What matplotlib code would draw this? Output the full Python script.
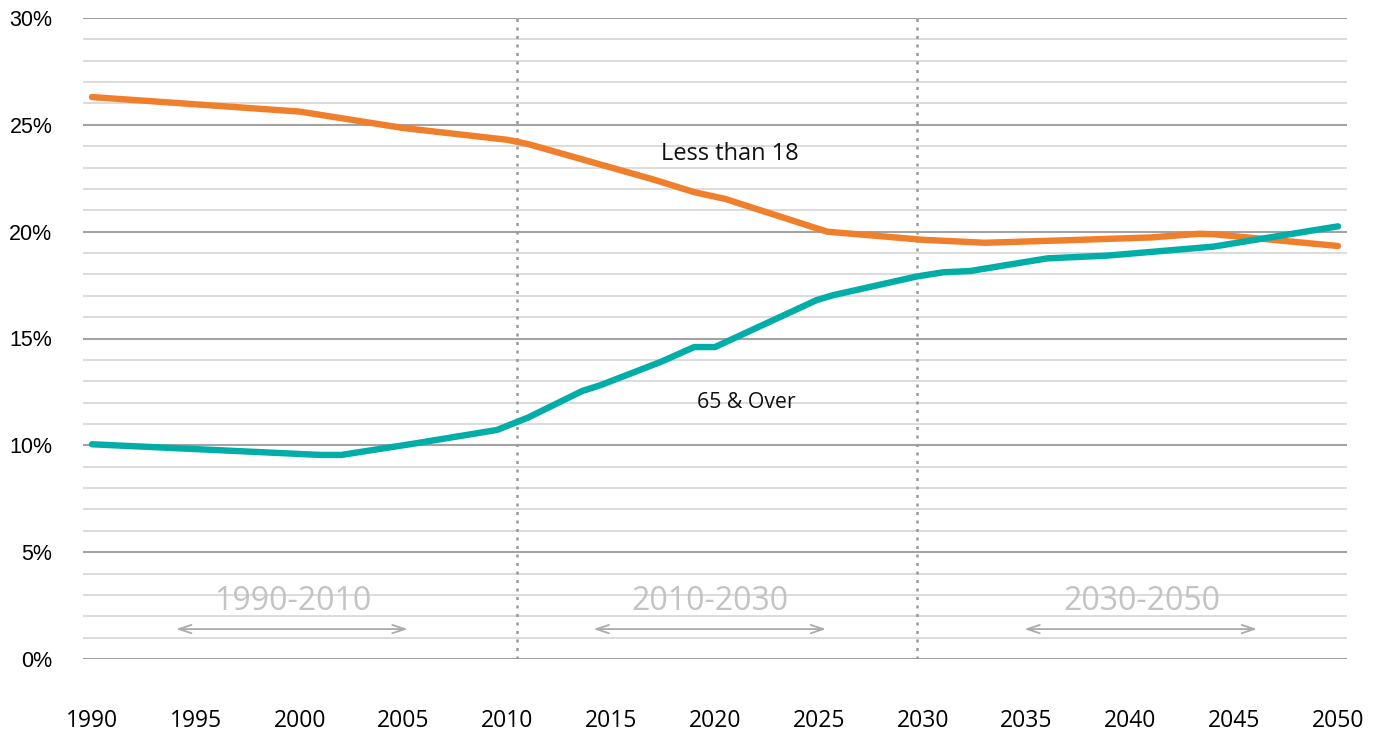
import matplotlib
matplotlib.use("Agg")
import matplotlib.pyplot as plt
from matplotlib.ticker import MultipleLocator, FuncFormatter

# ---- data ----
years_under18 = [1990, 2000, 2005, 2010, 2011, 2017, 2019, 2020.5, 2025.4, 2030, 2033, 2037, 2041, 2043.3, 2044, 2050]
pct_under18 = [26.3, 25.62, 24.85, 24.3, 24.1, 22.45, 21.85, 21.53, 20.0, 19.62, 19.48, 19.6, 19.73, 19.9, 19.88, 19.33]

years_65plus = [1990, 2001, 2002, 2005.5, 2009.5, 2011, 2013.6, 2014.5, 2017.4, 2019, 2020, 2024.9, 2025.7, 2029.7, 2031, 2032.3, 2036, 2038.9, 2044, 2050]
pct_65plus = [10.05, 9.55, 9.55, 10.08, 10.72, 11.3, 12.54, 12.82, 13.91, 14.6, 14.6, 16.8, 17.03, 17.9, 18.1, 18.16, 18.75, 18.88, 19.3, 20.25]

x_ticks = [1990, 1995, 2000, 2005, 2010, 2015, 2020, 2025, 2030, 2035, 2040, 2045, 2050]
y_major = [0, 5, 10, 15, 20, 25, 30]
period_labels = ["1990-2010", "2010-2030", "2030-2050"]
period_text_x = [1999.65, 2019.78, 2040.56]
period_arrow_from = [1994.05, 2014.15, 2034.9]
period_arrow_to = [2005.2, 2025.35, 2046.1]
divider_years = [2010.45, 2029.75]

ORANGE = "#F07F2C"
TEAL = "#00ADA7"

fig = plt.figure(figsize=(13.77, 7.33), dpi=100)
ax = fig.add_axes([83 / 1377, 1 - 659 / 733, 1264 / 1377, 641 / 733])

ax.set_xlim(1989.567, 2050.433)
ax.set_ylim(0, 30)

# grid
ax.yaxis.set_major_locator(MultipleLocator(5))
ax.yaxis.set_minor_locator(MultipleLocator(1))
ax.grid(which="minor", axis="y", color="#d9d9d9", linewidth=1.3, zorder=0)
ax.grid(which="major", axis="y", color="#a3a3a3", linewidth=1.5, zorder=0)
ax.set_axisbelow(True)

for s in ax.spines.values():
    s.set_visible(False)

ax.set_xticks(x_ticks)
ax.set_xticklabels([str(t) for t in x_ticks], fontfamily="Open Sans", fontsize=16.5)
ax.yaxis.set_major_formatter(FuncFormatter(lambda v, p: f"{int(v)}%"))
ax.tick_params(axis="x", length=0, pad=36)
ax.tick_params(axis="y", which="both", length=0, pad=22, labelsize=15.5)
for lbl in ax.get_yticklabels():
    lbl.set_fontfamily("Liberation Sans")

# dotted dividers
for d in divider_years:
    ax.plot([d, d], [0, 30], color="#9a9a9a", linestyle=(0, (1.2, 2.2)), linewidth=1.8, zorder=1)

# lines
ax.plot(years_under18, pct_under18, color=ORANGE, linewidth=4.6, solid_capstyle="round",
        solid_joinstyle="round", zorder=3)
ax.plot(years_65plus, pct_65plus, color=TEAL, linewidth=4.6, solid_capstyle="round",
        solid_joinstyle="round", zorder=4)

ax.text(2020.7, 23.65, "Less than 18", fontfamily="Open Sans", fontsize=17, ha="center",
        va="center", color="#111111")
ax.text(2021.5, 12.0, "65 & Over", fontfamily="Open Sans", fontsize=15.3, ha="center",
        va="center", color="#111111")

# period annotations
for lab, tx, a0, a1 in zip(period_labels, period_text_x, period_arrow_from, period_arrow_to):
    ax.text(tx, 2.68, lab, fontfamily="Open Sans", fontsize=23, color="#c3c3c3",
            ha="center", va="center", zorder=2)
    ax.annotate("", xy=(a1, 1.4), xytext=(a0, 1.4),
                arrowprops=dict(arrowstyle="<->,head_length=0.9,head_width=0.3",
                                color="#ababab", linewidth=1.3, shrinkA=0, shrinkB=0),
                zorder=2)

fig.savefig("out.png", dpi=100)
